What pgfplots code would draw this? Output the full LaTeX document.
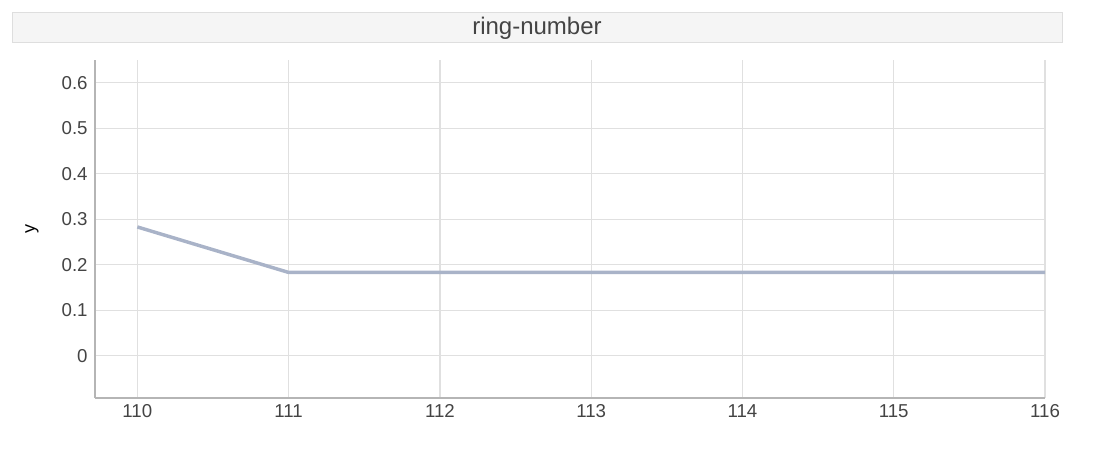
\documentclass[border=0pt]{standalone}
\usepackage{pgfplots}
\pgfplotsset{compat=1.18}
\usepackage{fontspec}
\setmainfont{Liberation Sans}
\definecolor{linec}{HTML}{A9B3C8}
\definecolor{gridc}{HTML}{E0E0E0}
\definecolor{spinec}{HTML}{B5B5B5}
\definecolor{txt}{HTML}{444444}
\begin{document}
\begin{tikzpicture}
\begin{scope}[x=0.75pt,y=-0.75pt]
\path[use as bounding box] (0,0) rectangle (1111,472);
\draw[draw=black!13, fill=black!4, line width=0.75pt] (12,12) rectangle (1062,42);
\node[text=txt, font=\fontsize{18}{21}\selectfont] at (537,28) {ring-number};
\node[text=black, rotate=90, font=\fontsize{13.5}{15}\selectfont] at (32,229) {y};
\coordinate (sw) at (95,398);
\end{scope}
\begin{axis}[
  at={(sw)}, anchor=south west,
  scale only axis, width=712.5pt, height=253.5pt,
  xmin=109.72, xmax=116, ymin=-0.093, ymax=0.65,
  axis x line*=bottom, axis y line*=left,
  axis line style={spinec, line width=1.1pt, -},
  xtick={110,...,116}, ytick={0,0.1,0.2,0.3,0.4,0.5,0.6},
  major tick length=0pt,
  grid=major, grid style={gridc, line width=0.9pt},
  tick label style={text=txt, font=\fontsize{14}{16}\selectfont},
  /pgf/number format/assume math mode=true,
  yticklabel style={/pgf/number format/fixed, /pgf/number format/precision=1, xshift=-2pt},
  xticklabel style={/pgf/number format/1000 sep={}, text height=10pt, text depth=0pt, yshift=-1pt},
  clip=false,
]
\addplot[linec, line width=2.6pt, line join=round] coordinates {
(110,0.283) (111,0.183) (112,0.183) (113,0.183) (114,0.183) (115,0.183) (116,0.183)
};
\end{axis}
\end{tikzpicture}
\end{document}
